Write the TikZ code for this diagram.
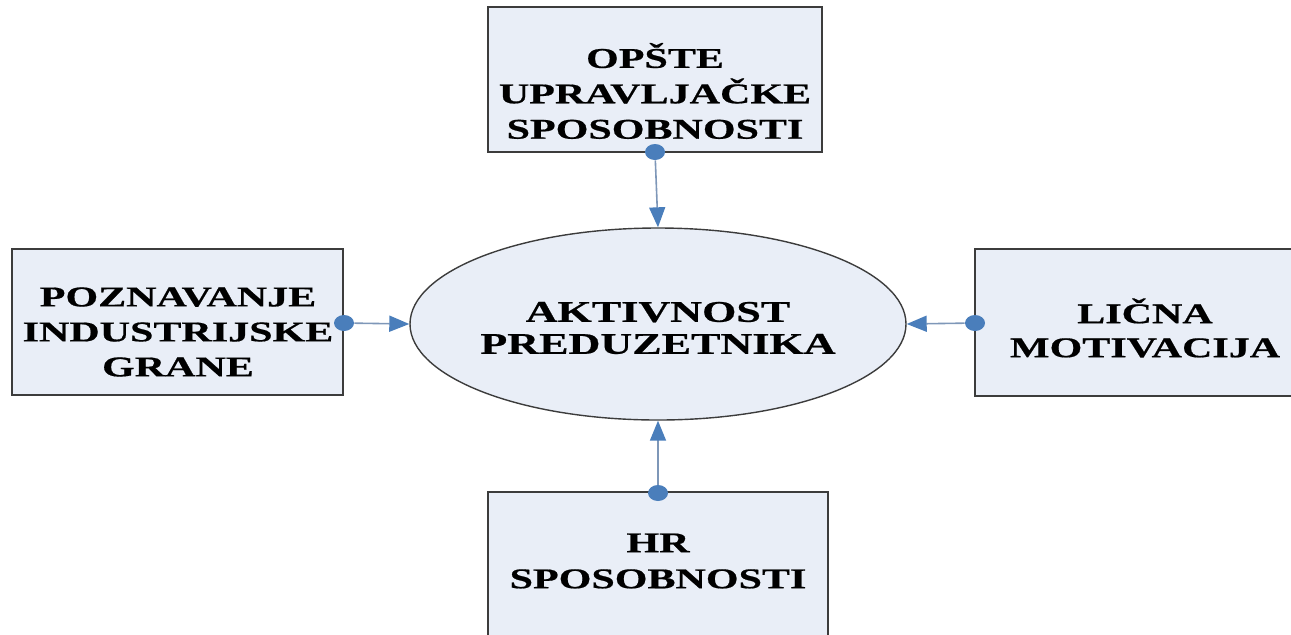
\documentclass[tikz,border=0pt]{standalone}
\usepackage{fontspec}
\newfontfamily\boxfont{Liberation Serif}[FakeStretch=1.47, BoldFeatures={FakeBold=0.6}]
\usetikzlibrary{arrows.meta,shapes.geometric}
\definecolor{boxfill}{HTML}{E9EEF7}
\definecolor{boxline}{HTML}{3C3C3C}
\definecolor{dotblue}{HTML}{4A7EBB}
\definecolor{linkgray}{HTML}{7E97B8}
\begin{document}
\begin{tikzpicture}[x = 0.5pt, y = -0.5pt,
    factor/.style = {draw = boxline, fill = boxfill, line width = 0.8pt, inner sep = 0pt},
    core/.style = {ellipse, draw = boxline, fill = boxfill, line width = 0.7pt,
        minimum width = 248pt, minimum height = 96pt, inner sep = 0pt},
    caption/.style = {align = center, inner sep = 0pt, font = \boxfont\bfseries\fontsize{14.3}{#1}\selectfont},
    caption/.default = 17.5,
    dot/.style = {ellipse, fill = dotblue, minimum width = 10pt, minimum height = 8pt, inner sep = 0pt},
    link/.style = {draw = linkgray, line width = 0.8pt, -{Triangle[length = 10pt, width = 8pt, color = dotblue]}}]
        \useasboundingbox (0, 0) rectangle (1291, 634);
        % boxes
        \node[core] (act) at (658, 324) {};
        \node[factor, minimum width = 167pt, minimum height = 72.5pt] (ops) at (655, 79.5) {};
        \node[factor, minimum width = 165.5pt, minimum height = 73pt] (poz) at (177.5, 322) {};
        \node[factor, minimum width = 170pt, minimum height = 73.5pt] (lic) at (1145, 322.5) {};
        \node[factor, minimum width = 170pt, minimum height = 74pt] (hrs) at (658, 566) {};
        % texts
        \node[align = center, inner sep = 0pt, font = \boxfont\bfseries\fontsize{15}{16}\selectfont] (acttxt) at (658, 328) {AKTIVNOST\\PREDUZETNIKA};
        \node[caption = 17.7] (opstxt) at (655, 91) {OPŠTE\\UPRAVLJAČKE\\SPOSOBNOSTI};
        \node[caption] (poztxt) at (178, 332) {POZNAVANJE\\INDUSTRIJSKE\\GRANE};
        \node[caption = 17] (lictxt) at (1145, 328) {LIČNA\\MOTIVACIJA};
        \node[caption = 18] (hrstxt) at (658, 561) {HR\\SPOSOBNOSTI};
        % connectors
        \node[dot] (d1) at (655, 152) {};
        \node[dot] (d2) at (344, 323) {};
        \node[dot] (d3) at (975, 323) {};
        \node[dot] (d4) at (658, 493) {};
        \draw[link] (d1) -- (act.north);
        \draw[link] (d2) -- (act.west);
        \draw[link] (d3) -- (act.east);
        \draw[link] (d4) -- (act.south);
    \end{tikzpicture}
\end{document}
